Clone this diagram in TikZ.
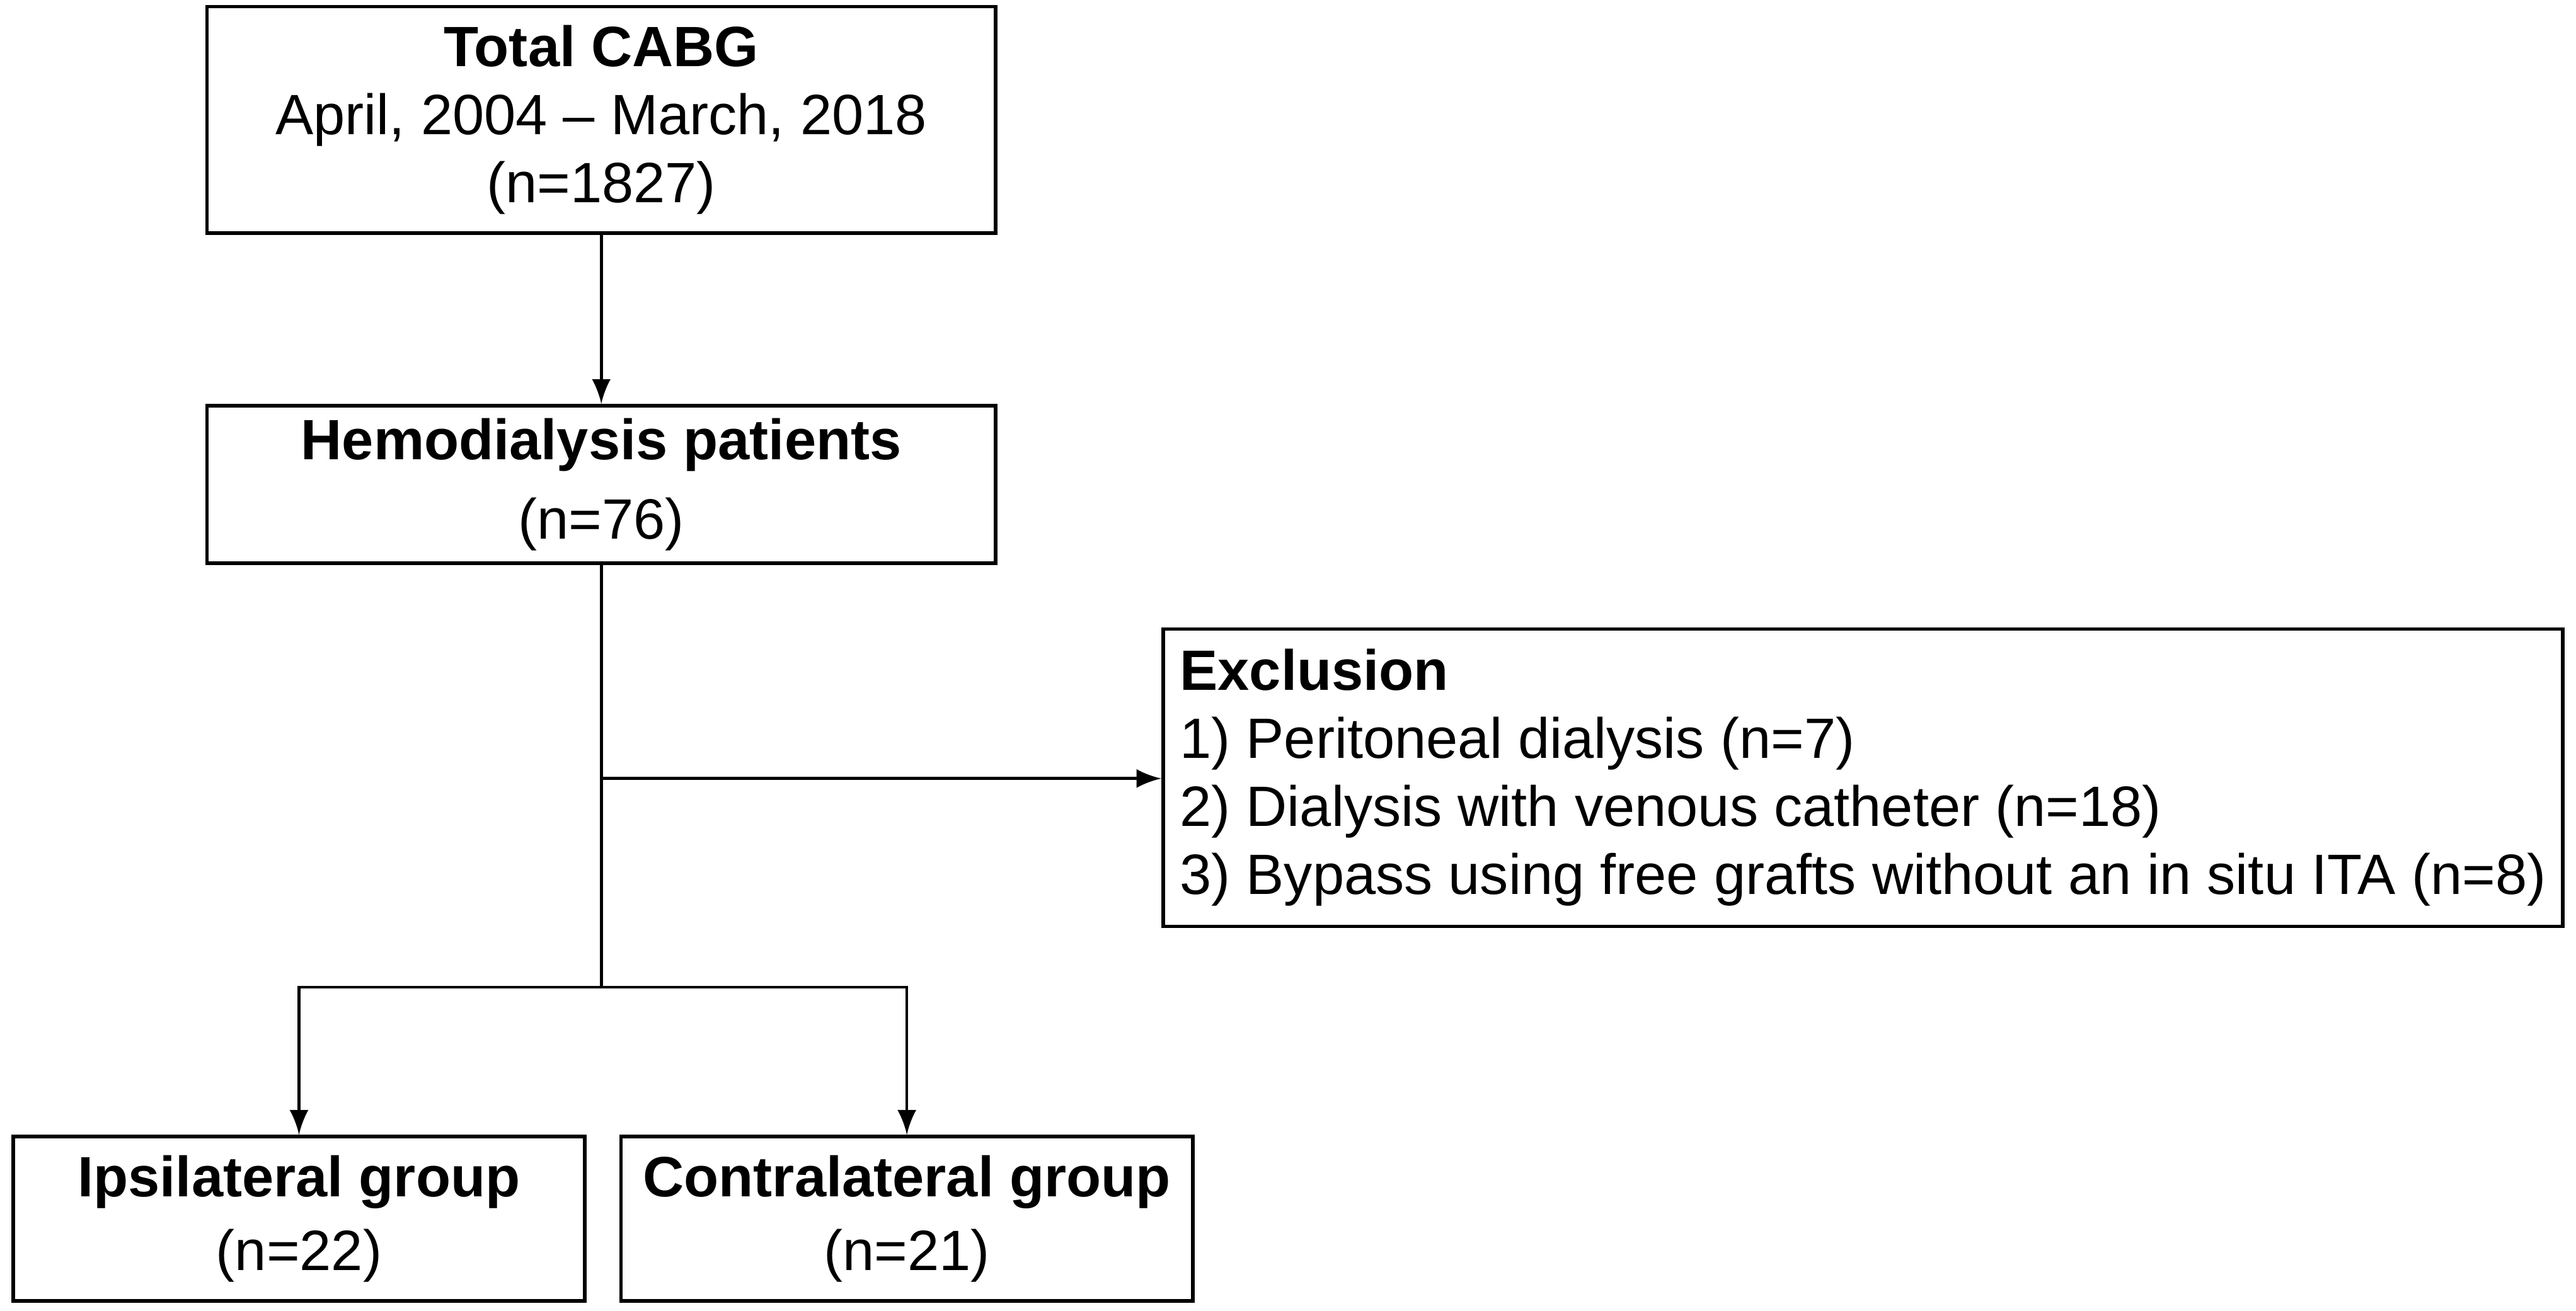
\documentclass[tikz,border=0pt]{standalone}
\usepackage{fontspec}
\setmainfont{Liberation Sans}
\usepackage{tikz}
\usetikzlibrary{arrows}

\tikzset{
  box/.style={draw=black, line width=0.6pt, align=center, inner sep=0pt,
              font=\fontsize{9.85}{11.8}\selectfont},
  flow/.style={line width=0.5pt, ->, >=latex}
}

\begin{document}
\begin{tikzpicture}

% fix the page to the reference proportions
\useasboundingbox (0,0) rectangle (15.68,-7.98);

% Boxes
\node[box, minimum width=4.80cm, minimum height=1.38cm] (total) at (3.66,-0.73)
  {\textbf{Total CABG}\\April, 2004 -- March, 2018\\(n=1827)};
\node[box, minimum width=4.80cm, minimum height=0.96cm] (hemo) at (3.66,-2.95)
  {\textbf{Hemodialysis patients}\\[2pt](n=76)};
\node[box, minimum width=8.52cm, minimum height=1.81cm, align=left] (excl) at (11.34,-4.735)
  {\textbf{Exclusion}\\1) Peritoneal dialysis (n=7)\\2) Dialysis with venous catheter (n=18)\\3) Bypass using free grafts without an in situ ITA (n=8)};
\node[box, minimum width=3.48cm, minimum height=1.00cm] (ipsi) at (1.82,-7.42)
  {\textbf{Ipsilateral group}\\[1pt](n=22)};
\node[box, minimum width=3.48cm, minimum height=1.00cm] (contra) at (5.52,-7.42)
  {\textbf{Contralateral group}\\[1pt](n=21)};

% Connectors
\coordinate (junc) at (3.66,-4.74);
\coordinate (split) at (3.66,-6.01);

\draw [flow] (total) -- (hemo);
\draw [line width=0.5pt] (hemo) -- (split);
\draw [flow] (junc) -- (junc -| excl.west);
\draw [flow] (split) -| (ipsi);
\draw [flow] (split) -| (contra);

\end{tikzpicture}
\end{document}
